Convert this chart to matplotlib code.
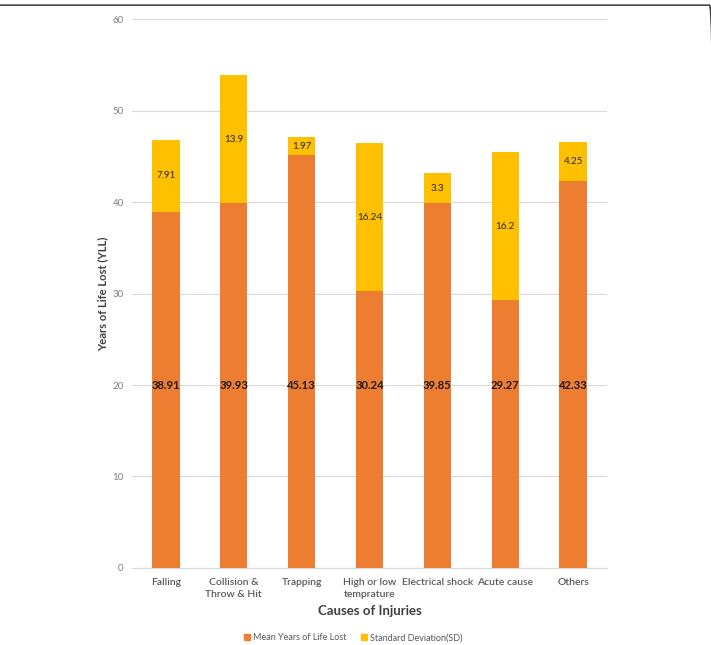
import matplotlib.pyplot as plt
from matplotlib.patches import FancyBboxPatch, Patch
import numpy as np

# Data
causes = ['Falling', 'Collision &\nThrow & Hit', 'Trapping', 'High or low\ntemprature',
          'Electrical shock', 'Acute cause', 'Others']
mean_yll = [38.91, 39.93, 45.13, 30.24, 39.85, 29.27, 42.33]
sd_yll = [7.91, 13.9, 1.97, 16.24, 3.3, 16.2, 4.25]

orange = '#ED7D31'
yellow = '#FFC000'
gray = '#595959'

plt.rcParams['font.family'] = ['Lato', 'DejaVu Sans']

fig = plt.figure(figsize=(7.11, 6.45), dpi=100)
ax = fig.add_axes([0.1857, 0.1194, 0.668, 0.8511])

x = np.arange(len(causes))
ax.bar(x, mean_yll, width=0.4, color=orange, zorder=3)
ax.bar(x, sd_yll, width=0.4, bottom=mean_yll, color=yellow, zorder=3)

for i in range(len(causes)):
    ax.text(x[i], 20, f'{mean_yll[i]:g}', ha='center', va='center',
            fontsize=8, fontweight='bold', color='#1a1a1a', zorder=4)
    ax.text(x[i], mean_yll[i] + sd_yll[i] / 2, f'{sd_yll[i]:g}', ha='center', va='center',
            fontsize=7, color='#262626', zorder=4)

ax.set_xlim(-0.5, len(causes) - 0.5)
ax.set_ylim(0, 60)
ax.set_yticks(range(0, 61, 10))
ax.set_xticks(x)
ax.set_xticklabels(causes, fontsize=7.5, color=gray, fontweight='semibold', linespacing=1.4)
ax.tick_params(axis='y', labelsize=7, colors='#7f7f7f', length=0, pad=6)
ax.tick_params(axis='x', length=0, pad=7)
ax.grid(axis='y', color='#d9d9d9', linewidth=0.8, zorder=0)
for s in ['top', 'right', 'left']:
    ax.spines[s].set_visible(False)
ax.spines['bottom'].set_color('#d9d9d9')

ax.set_ylabel('Years of Life Lost (YLL)', fontsize=8, fontweight='bold', color='#404040', labelpad=3)
ax.set_xlabel('Causes of Injuries', fontsize=9.5, fontweight='bold', color='#404040', labelpad=5)

handles = [Patch(color=orange, label='Mean Years of Life Lost'),
           Patch(color=yellow, label='Standard Deviation(SD)')]
fig.legend(handles=handles, loc='center', bbox_to_anchor=(0.497, 0.011), ncol=2, frameon=False,
           fontsize=6.5, handlelength=0.6, handleheight=0.6, columnspacing=1.6, handletextpad=0.4,
           labelcolor=gray)

# only the top edge of the surrounding frame shows in the image
frame = FancyBboxPatch((-0.05, -0.1), 1.056, 1.092, boxstyle='round,pad=0,rounding_size=0.008',
                       transform=fig.transFigure, fill=False, edgecolor='#444444', linewidth=1.2)
fig.patches.append(frame)

fig.savefig('out.png', dpi=100)
